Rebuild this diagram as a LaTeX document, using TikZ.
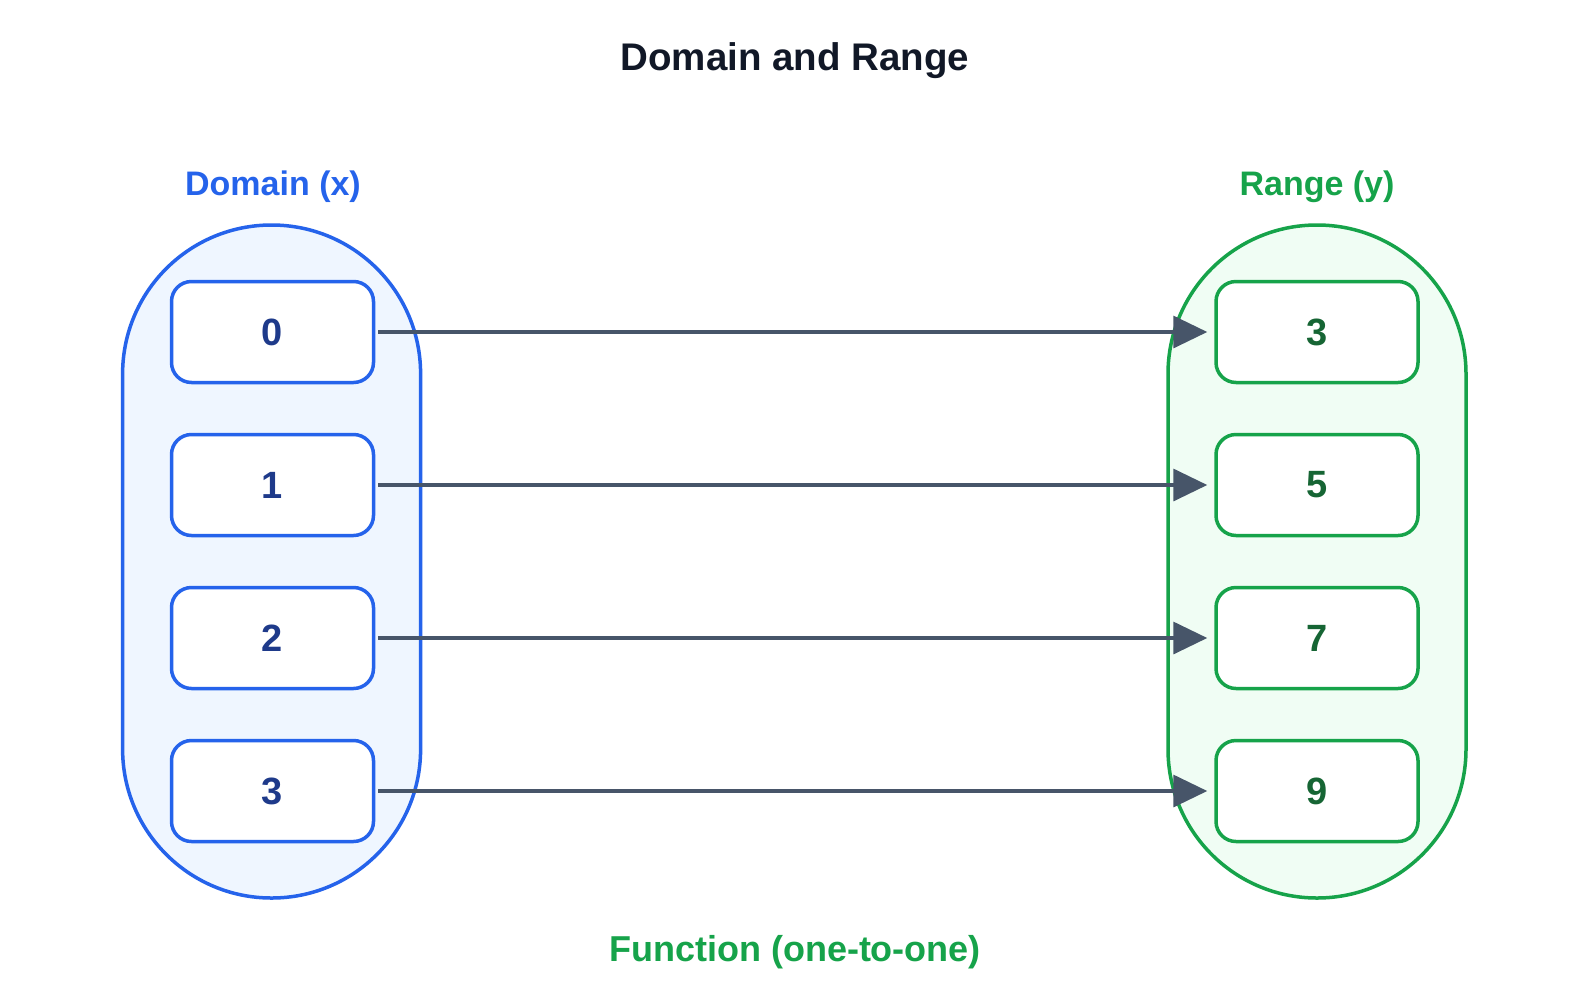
\documentclass[tikz,border=0pt]{standalone}
\usepackage{fontspec}
\setmainfont{Liberation Sans}
\usetikzlibrary{arrows.meta}
\definecolor{titlec}{HTML}{111827}
\definecolor{bluec}{HTML}{2563EB}
\definecolor{bluefill}{HTML}{EFF6FF}
\definecolor{bluetext}{HTML}{1E3A8A}
\definecolor{greenc}{HTML}{16A34A}
\definecolor{greenfill}{HTML}{F0FDF4}
\definecolor{greentext}{HTML}{166534}
\definecolor{arrowc}{HTML}{475569}
\tikzset{
  capsule/.style={draw=#1, line width=3.5pt, minimum width=298pt, minimum height=673pt, rounded corners=148.9pt, inner sep=0pt},
  valbox/.style={draw=#1, fill=white, line width=3.5pt, minimum width=202pt, minimum height=101pt, rounded corners=20pt, inner sep=0pt, font=\fontsize{38}{40}\selectfont\bfseries},
  maparrow/.style={draw=arrowc, line width=3.5pt, -{Triangle[length=34pt,width=32pt]}},
  lbl/.style={anchor=base, inner sep=0pt, font=\fontsize{34}{36}\selectfont\bfseries}
}
\begin{document}
\begin{tikzpicture}[x=1pt,y=-1pt]
\useasboundingbox[fill=white] (0,0) rectangle (1589,1002);
\node[lbl, text=titlec, font=\fontsize{38.5}{40}\selectfont\bfseries] (title) at (795,70) {Domain and Range};
\node[lbl, text=bluec] (domlbl) at (273,195) {Domain (x)};
\node[lbl, text=greenc] (rnglbl) at (1317,195) {Range (y)};
\node[lbl, text=greenc, font=\fontsize{36}{38}\selectfont\bfseries] (funlbl) at (795,961.5) {Function (one-to-one)};
\node[capsule=bluec, fill=bluefill] (dom) at (271.6,561.5) {};
\node[capsule=greenc, fill=greenfill] (rng) at (1317,561.5) {};
\foreach \i/\a/\b/\y in {0/0/3/332, 1/1/5/485, 2/2/7/638, 3/3/9/791} {
  \node[valbox=bluec, text=bluetext] (d\i) at (272.5,\y) {\a};
  \node[valbox=greenc, text=greentext] (r\i) at (1317,\y) {\b};
  \draw[maparrow] ([xshift=3pt]d\i.east) -- ([xshift=-7pt]r\i.west);
}
\end{tikzpicture}
\end{document}
